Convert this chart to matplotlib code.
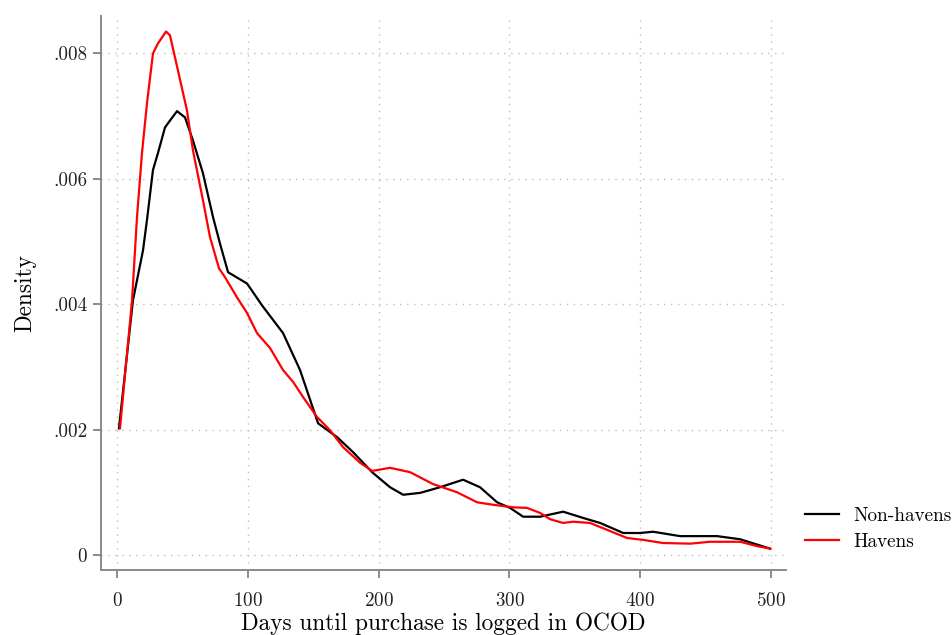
import matplotlib
matplotlib.use("Agg")
import matplotlib.pyplot as plt
import numpy as np

plt.rcParams['font.family'] = ['cmr10', 'DejaVu Serif']
plt.rcParams['axes.formatter.use_mathtext'] = True

# values
days_non = [1.5, 12.2, 19.9, 22.9, 27.5, 31.3, 36.7, 40.5, 45.9, 52.0, 58.1, 65.7,
            73.4, 78.7, 84.9, 99.4, 110.9, 126.9, 139.9, 153.7, 168.2, 180.4, 195.0,
            208.7, 218.7, 231.7, 246.9, 264.5, 277.5, 290.5, 300.5, 310.4, 323.4,
            341.0, 356.3, 369.3, 386.9, 399.8, 409.8, 430.4, 458.7, 476.3, 499.2]
dens_non = [0.00202, 0.00406, 0.00486, 0.00534, 0.00614, 0.00641, 0.00682, 0.00693,
            0.00708, 0.00698, 0.00661, 0.00609, 0.00539, 0.00497, 0.00451, 0.00433,
            0.00398, 0.00354, 0.00295, 0.00210, 0.00188, 0.00164, 0.00132, 0.00108,
            0.00096, 0.00099, 0.00108, 0.00120, 0.00108, 0.00084, 0.00075, 0.00061,
            0.00061, 0.00069, 0.00059, 0.00051, 0.00035, 0.00035, 0.00037, 0.00030,
            0.00030, 0.00025, 0.00010]

days_hav = [2.3, 11.5, 15.3, 19.1, 22.9, 27.5, 31.3, 37.5, 40.5, 46.6, 53.5, 58.1,
            65.7, 71.1, 78.0, 82.6, 91.7, 99.4, 107.0, 117.0, 126.9, 134.6, 142.2,
            152.9, 162.8, 172.8, 185.8, 195.0, 208.7, 224.0, 241.6, 259.9, 275.2,
            287.5, 302.8, 313.5, 323.4, 331.0, 341.0, 348.6, 361.6, 374.6, 389.9,
            402.1, 417.4, 438.1, 453.4, 476.3, 489.3, 499.2]
dens_hav = [0.00202, 0.00406, 0.00539, 0.00641, 0.00720, 0.00800, 0.00816, 0.00835,
            0.00829, 0.00773, 0.00709, 0.00645, 0.00566, 0.00507, 0.00457, 0.00443,
            0.00411, 0.00386, 0.00354, 0.00330, 0.00295, 0.00276, 0.00252, 0.00220,
            0.00199, 0.00172, 0.00147, 0.00134, 0.00139, 0.00132, 0.00113, 0.00100,
            0.00084, 0.00080, 0.00076, 0.00075, 0.00067, 0.00057, 0.00051, 0.00053,
            0.00051, 0.00040, 0.00027, 0.00024, 0.00019, 0.00018, 0.00021, 0.00021,
            0.00014, 0.00010]

x_ticks = [0, 100, 200, 300, 400, 500]
y_ticks = [0, 0.002, 0.004, 0.006, 0.008]
y_labels = ['0', '.002', '.004', '.006', '.008']

fig = plt.figure(figsize=(9.53, 6.35), dpi=100)
ax = fig.add_axes([0.106, 0.1024, 0.719, 0.8726])

ax.plot(days_non, dens_non, color='black', lw=1.6, label='Non-havens')
ax.plot(days_hav, dens_hav, color='#ff0000', lw=1.6, label='Havens')

ax.set_xlim(-12.2, 511.5)
ax.set_ylim(-0.00024, 0.0086)
ax.set_xticks(x_ticks)
ax.set_yticks(y_ticks)
ax.set_yticklabels(y_labels)

ax.grid(True, color='#bdbdbd', linestyle=(0, (1, 4)), lw=1.0)
ax.set_axisbelow(True)

for s in ['top', 'right']:
    ax.spines[s].set_visible(False)
for s in ['left', 'bottom']:
    ax.spines[s].set_color('#8a8a8a')
    ax.spines[s].set_linewidth(1.4)
ax.tick_params(axis='both', colors='#8a8a8a', labelcolor='#222222',
               length=6, width=1.4, labelsize=13.8)
ax.tick_params(axis='x', pad=10)
ax.tick_params(axis='y', pad=4)

ax.set_xlabel('Days until purchase is logged in OCOD', fontsize=16.8, labelpad=2)
ax.set_ylabel('Density', fontsize=16.8, labelpad=12)

fig.legend(loc='center left', bbox_to_anchor=(0.845, 0.167), frameon=False,
           fontsize=13.8, handlelength=1.75, handletextpad=0.75, labelspacing=0.45,
           borderpad=0, borderaxespad=0)

fig.savefig('out.png', dpi=100)
